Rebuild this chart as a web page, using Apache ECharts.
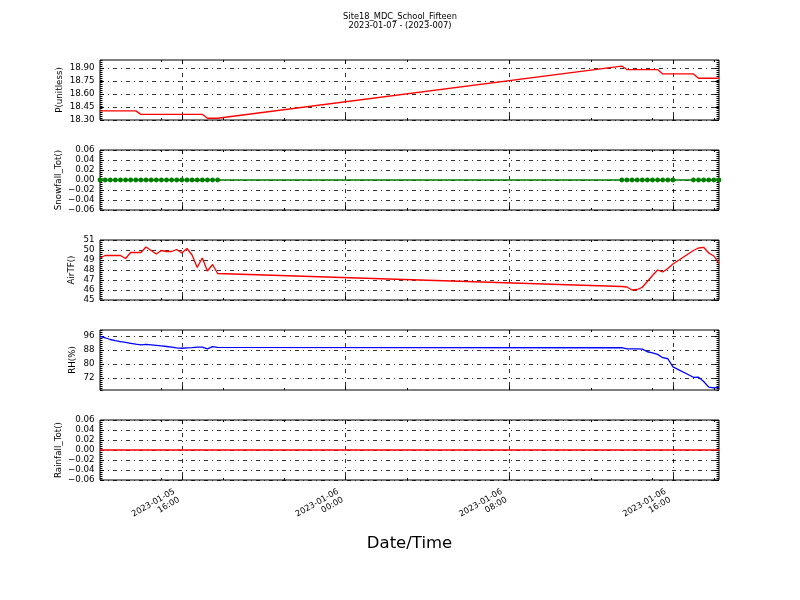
<!DOCTYPE html>
<html><head><meta charset="utf-8">
<script src="https://cdn.jsdelivr.net/npm/echarts@6/dist/echarts.min.js"></script>
<style>html,body{margin:0;padding:0;background:#fff}#c{width:800px;height:600px}</style>
</head><body><div id="c"></div>
<script>
// ---------------- data ----------------
const titleLines = ['Site18_MDC_School_Fifteen', '2023-01-07 - (2023-007)'];
const xAxisTitle = 'Date/Time';
const panelNames = ['P(unitless)', 'Snowfall_Tot()', 'AirTF()', 'RH(%)', 'Rainfall_Tot()'];

const times = [
  '2023-01-05 12:00','2023-01-05 12:15','2023-01-05 12:30','2023-01-05 12:45',
  '2023-01-05 13:00','2023-01-05 13:15','2023-01-05 13:30','2023-01-05 13:45',
  '2023-01-05 14:00','2023-01-05 14:15','2023-01-05 14:30','2023-01-05 14:45',
  '2023-01-05 15:00','2023-01-05 15:15','2023-01-05 15:30','2023-01-05 15:45',
  '2023-01-05 16:00','2023-01-05 16:15','2023-01-05 16:30','2023-01-05 16:45',
  '2023-01-05 17:00','2023-01-05 17:15','2023-01-05 17:30','2023-01-05 17:45',
  '2023-01-06 13:30','2023-01-06 13:45','2023-01-06 14:00','2023-01-06 14:15',
  '2023-01-06 14:30','2023-01-06 14:45','2023-01-06 15:00','2023-01-06 15:15',
  '2023-01-06 15:30','2023-01-06 15:45','2023-01-06 16:00',
  '2023-01-06 17:00','2023-01-06 17:15','2023-01-06 17:30','2023-01-06 17:45',
  '2023-01-06 18:00','2023-01-06 18:15'
];
const pressure = [
  18.405,18.405,18.405,18.405,18.405,18.405,18.405,18.405,
  18.365,18.365,18.365,18.365,18.365,18.365,18.365,18.365,
  18.365,18.365,18.365,18.365,18.365,18.32,18.32,18.32,
  18.92,18.88,18.88,18.88,18.88,18.88,18.88,18.88,
  18.83,18.83,18.83,
  18.83,18.78,18.78,18.78,18.78,18.78
];
const snowfall = [
  0,0,0,0,0,0,0,0,0,0,0,0,0,0,0,0,0,0,0,0,0,0,0,0,
  0,0,0,0,0,0,0,0,0,0,0,
  0,0,0,0,0,0
];
const airTemp = [
  49.2,49.45,49.45,49.45,49.45,49.15,49.75,49.75,
  49.75,50.3,49.95,49.6,49.95,49.85,49.85,50.05,
  49.7,50.15,49.5,48.25,49.2,47.9,48.55,47.65,
  46.35,46.3,46.0,46.05,46.27,46.85,47.45,48.0,
  47.8,48.15,48.6,
  49.95,50.2,50.27,49.7,49.4,48.65
];
const relHum = [
  95.8,95.0,94.0,93.3,92.8,92.3,91.8,91.3,
  90.9,91.2,90.9,90.6,90.3,90.0,89.6,89.2,
  89.0,89.2,89.4,89.7,89.7,88.6,89.9,89.5,
  89.3,88.6,88.7,88.6,88.5,87.0,86.3,85.5,
  83.6,83.0,78.4,
  72.4,72.5,70.0,66.8,66.3,66.8
];
const rainfall = [
  0,0,0,0,0,0,0,0,0,0,0,0,0,0,0,0,0,0,0,0,0,0,0,0,
  0,0,0,0,0,0,0,0,0,0,0,
  0,0,0,0,0,0
];

const pTicks = [18.30, 18.45, 18.60, 18.75, 18.90];
const snowTicks = [-0.06, -0.04, -0.02, 0.00, 0.02, 0.04, 0.06];
const tTicks = [45, 46, 47, 48, 49, 50, 51];
const rhTicks = [72, 80, 88, 96];
const rainTicks = [-0.06, -0.04, -0.02, 0.00, 0.02, 0.04, 0.06];
const xMajorTicks = ['2023-01-05 16:00','2023-01-06 00:00','2023-01-06 08:00','2023-01-06 16:00'];
const xMinorTicks = ['2023-01-05 15:00','2023-01-05 18:00','2023-01-05 21:00','2023-01-06 03:00','2023-01-06 12:00','2023-01-06 15:00','2023-01-06 18:00'];
const xRange = ['2023-01-05 12:00', '2023-01-06 18:15'];

// ---------------- chart ----------------
function toMs(s) {
  const [d, t] = s.split(' ');
  const [Y, M, D] = d.split('-').map(Number);
  const [h, m] = t.split(':').map(Number);
  return new Date(Y, M - 1, D, h, m).getTime();
}
const pad = n => (n < 10 ? '0' : '') + n;
const FONT = 'DejaVu Sans';
const dashDot = { color: '#000', width: 0.8, type: [4, 4, 1, 4] };

const xMin = toMs(xRange[0]), xMax = toMs(xRange[1]);
const majors = xMajorTicks.map(toMs), minors = xMinorTicks.map(toMs);

const fmtMinus = d => v => (v < -1e-12 ? '\u2212' : '') + Math.abs(v).toFixed(d);
const panels = [
  { vals: pressure, ticks: pTicks, min: 18.30, max: 18.99, color: '#ff0000', fmt: fmtMinus(2), gap: 36 },
  { vals: snowfall, ticks: snowTicks, min: -0.06, max: 0.06, color: '#008000', fmt: fmtMinus(2), gap: 37, sym: true },
  { vals: airTemp, ticks: tTicks, min: 45, max: 51, color: '#ff0000', fmt: fmtMinus(0), gap: 24 },
  { vals: relHum, ticks: rhTicks, min: 65.14, max: 99.43, color: '#0000ff', fmt: fmtMinus(0), gap: 22.5 },
  { vals: rainfall, ticks: rainTicks, min: -0.06, max: 0.06, color: '#ff0000', fmt: fmtMinus(2), gap: 37 }
];
const tops = [60, 150, 240, 330, 420];

const grid = [], xAxis = [], yAxis = [], series = [];
panels.forEach((p, i) => {
  grid.push({ left: 100, width: 619, top: tops[i], height: 60, show: true,
    borderColor: '#000', borderWidth: 1, backgroundColor: 'transparent', containLabel: false });
  const xBase = { gridIndex: i, type: 'value', min: xMin, max: xMax,
    axisLine: { show: false, onZero: false }, splitLine: { show: false },
    axisLabel: { show: false } };
  xAxis.push(Object.assign({}, xBase, {
    position: 'bottom',
    axisTick: { show: true, inside: true, length: 4, customValues: majors, lineStyle: { color: '#000', width: 1 } },
    splitLine: { show: true, lineStyle: dashDot },
    axisLabel: i === 4 ? {
      show: true, customValues: majors, rotate: 30, margin: 12, padding: [0, 6, 0, 0],
      fontFamily: FONT, fontSize: 8.3, lineHeight: 9.5, color: '#000', align: 'right',
      formatter: v => { const d = new Date(v); return d.getFullYear() + '-' + pad(d.getMonth() + 1) + '-' + pad(d.getDate()) + '\n' + pad(d.getHours()) + ':' + pad(d.getMinutes()); }
    } : { show: false }
  }));
  xAxis.push(Object.assign({}, xBase, { position: 'top',
    axisTick: { show: true, inside: true, length: 4, customValues: majors, lineStyle: { color: '#000', width: 1 } } }));
  xAxis.push(Object.assign({}, xBase, { position: 'bottom',
    axisTick: { show: true, inside: true, length: 2, customValues: minors, lineStyle: { color: '#000', width: 1 } } }));
  xAxis.push(Object.assign({}, xBase, { position: 'top',
    axisTick: { show: true, inside: true, length: 2, customValues: minors, lineStyle: { color: '#000', width: 1 } } }));

  const yBase = { gridIndex: i, type: 'value', min: p.min, max: p.max,
    axisLine: { show: false, onZero: false }, splitLine: { show: false }, axisLabel: { show: false } };
  yAxis.push(Object.assign({}, yBase, {
    position: 'left',
    name: panelNames[i], nameLocation: 'middle', nameGap: p.gap, nameMoveOverlap: false,
    nameTextStyle: { fontFamily: FONT, fontSize: 8.7, color: '#000' },
    axisTick: { show: true, inside: true, length: 4, customValues: p.ticks, lineStyle: { color: '#000' } },
    splitLine: { show: true, lineStyle: dashDot },
    axisLabel: { show: true, customValues: p.ticks, formatter: p.fmt, margin: 5.5,
      fontFamily: FONT, fontSize: 8.7, color: '#000' }
  }));
  yAxis.push(Object.assign({}, yBase, { position: 'right',
    axisTick: { show: true, inside: true, length: 4, customValues: p.ticks, lineStyle: { color: '#000' } } }));
  const ruler = { gridIndex: i, type: 'value', min: 0, max: 30, interval: 1,
    axisLine: { show: false, onZero: false }, splitLine: { show: false }, axisLabel: { show: false },
    axisTick: { show: true, inside: true, length: 2.5, lineStyle: { color: '#000', width: 1 } } };
  yAxis.push(Object.assign({}, ruler, { position: 'left' }));
  yAxis.push(Object.assign({}, ruler, { position: 'right' }));

  series.push({
    type: 'line', xAxisIndex: 4 * i, yAxisIndex: 4 * i,
    data: times.map((t, k) => [toMs(t), p.vals[k]]),
    lineStyle: { color: p.color, width: 1.3 },
    itemStyle: { color: p.color },
    symbol: 'circle', symbolSize: 4.8,
    showSymbol: !!p.sym, showAllSymbol: true,
    silent: true, clip: true, z: 5
  });
});

const chart = echarts.init(document.getElementById('c'), null, { renderer: 'canvas' });
chart.setOption({
  backgroundColor: '#fff',
  animation: false,
  grid, xAxis, yAxis, series,
  graphic: [
    { type: 'text', x: 400, y: 17,
      style: { text: titleLines[0], fontFamily: FONT, fontSize: 8.3, fill: '#000', align: 'center', verticalAlign: 'middle' } },
    { type: 'text', x: 400, y: 26,
      style: { text: titleLines[1], fontFamily: FONT, fontSize: 8.3, fill: '#000', align: 'center', verticalAlign: 'middle' } },
    { type: 'text', x: 409.5, y: 544,
      style: { text: xAxisTitle, fontFamily: FONT, fontSize: 16.5, fill: '#000', align: 'center', verticalAlign: 'middle' } }
  ]
});
</script>
</body></html>
